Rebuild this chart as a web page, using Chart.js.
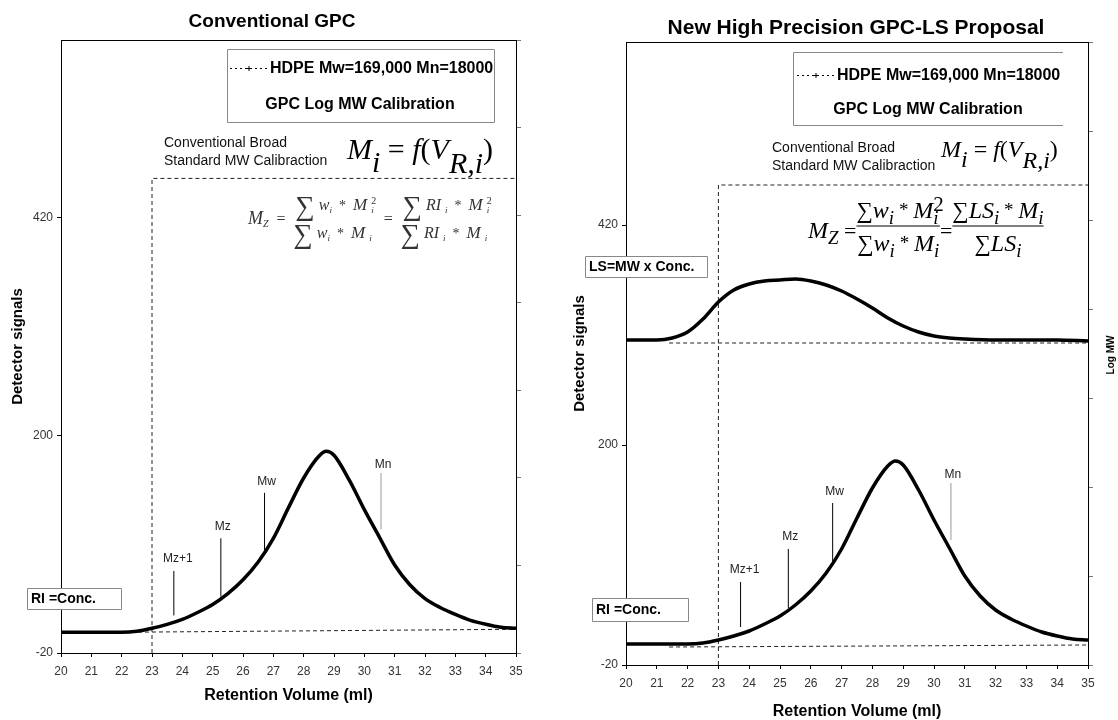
<!DOCTYPE html>
<html>
<head>
<meta charset="utf-8">
<script src="https://cdn.jsdelivr.net/npm/chart.js@4.4.0/dist/chart.umd.min.js"></script>
<style>
body { margin: 0; background: #fff; width: 1118px; height: 720px; overflow: hidden; position: relative; }
canvas { position: absolute; top: 0; }
#left { left: 0; }
#right { left: 558px; }
</style>
</head>
<body>
<canvas id="left" width="558" height="720"></canvas>
<canvas id="right" width="560" height="720"></canvas>
<script>
// RI (concentration) trace, retention volume in ml
const volume = [20, 20.5, 21, 21.5, 22, 22.5, 23, 23.5, 24, 24.5, 25, 25.5, 26, 26.5, 27, 27.5, 28, 28.5, 28.75, 29, 29.5, 30, 30.5, 31, 31.5, 32, 32.5, 33, 33.5, 34, 34.5, 35]
const riSignal = [1, 1, 1, 1, 1, 2, 5, 9, 14, 21, 29, 40, 54, 72, 96, 127, 157, 179, 184, 180, 155, 125, 97, 69, 49, 35, 26, 19, 13, 9, 6, 5]

// light scattering trace (right panel only)
const lsVolume = [20, 21, 21.5, 22, 22.5, 23, 23.5, 24, 24.5, 25, 25.5, 26, 26.5, 27, 27.5, 28, 28.5, 29, 29.5, 30, 30.5, 31, 32, 33, 34, 35]
const lsSignal = [305, 305, 307, 313, 326, 343, 355, 361, 364, 365, 366, 364, 360, 354, 346, 337, 327, 319, 313, 309, 307, 306, 305, 305, 305, 304]

// baselines
const riBaseVolumeLeft = [20, 35]
const riBaseLeft = [0.5, 4]
const riBaseVolumeRight = [21.4, 35]
const riBaseRight = [-2, 0]
const lsBaseVolume = [21.4, 35]
const lsBase = [302, 302]

// calibration limit (dashed box)
const calVolume = [23, 23, 35]
const calSignal = [-20, 460, 460]

// average MW markers
const markerNames = ['Mz+1', 'Mz', 'Mw', 'Mn']
const markerVolume = [23.72, 25.27, 26.71, 30.55]
const markerFrom = [18, 37, 82, 105]
const markerTo = [63, 96, 142, 162]
const markerLabelAt = [75, 108, 153, 170]

const xTicks = [20, 21, 22, 23, 24, 25, 26, 27, 28, 29, 30, 31, 32, 33, 34, 35]
const yTicks = [-20, 200, 420]
const logMwTicks = [0, 1, 2, 3, 4, 5, 6, 7]

const legendText = 'HDPE Mw=169,000 Mn=18000'
const legendText2 = 'GPC Log MW Calibration'

const SANS = '"Liberation Sans", Arial, sans-serif'
const SERIF = '"Liberation Serif", "Times New Roman", serif'

const pts = (xs, ys) => xs.map((x, i) => ({ x, y: ys[i] }))

function runs(ctx, x, y, list, draw = true) {
    const x0 = x
    list.forEach(([t, size, dy, style, keep]) => {
        ctx.font = `${style || ''} ${size}px ${SERIF}`
        if (draw) ctx.fillText(t, x, y + dy)
        if (!keep) x += ctx.measureText(t).width
    })
    return x - x0
}

function fraction(ctx, x, yNum, yDen, num, den, barY) {
    const wn = runs(ctx, 0, 0, num, false)
    const wd = runs(ctx, 0, 0, den, false)
    const w = Math.max(wn, wd)
    runs(ctx, x + (w - wn) / 2, yNum, num)
    runs(ctx, x + (w - wd) / 2, yDen, den)
    if (barY) {
        ctx.beginPath(); ctx.lineWidth = 1
        ctx.moveTo(x, barY); ctx.lineTo(x + w, barY); ctx.stroke()
    }
    return w
}

function textBox(ctx, x0, y0, x1, y1, text, size, openRight) {
    ctx.fillStyle = '#fff'
    ctx.fillRect(x0, y0, x1 - x0, y1 - y0)
    ctx.strokeStyle = '#888'; ctx.lineWidth = 1; ctx.setLineDash([])
    ctx.beginPath()
    if (openRight) {
        ctx.moveTo(x1, y0 + 0.5); ctx.lineTo(x0 + 0.5, y0 + 0.5); ctx.lineTo(x0 + 0.5, y1 + 0.5); ctx.lineTo(x1, y1 + 0.5)
    } else {
        ctx.rect(x0 + 0.5, y0 + 0.5, x1 - x0, y1 - y0)
    }
    ctx.stroke()
    if (text) {
        ctx.fillStyle = '#000'
        ctx.font = `bold ${size}px ${SANS}`
        ctx.textAlign = 'left'; ctx.textBaseline = 'middle'
        ctx.fillText(text, x0 + 4, (y0 + y1) / 2 + 1)
    }
}

function legend(ctx, x0, y0, x1, y1, sx0, sx1, ty, cx, ty2, openRight) {
    textBox(ctx, x0, y0, x1, y1, null, 0, openRight)
    ctx.strokeStyle = '#000'; ctx.lineWidth = 1; ctx.setLineDash([2, 3])
    ctx.beginPath(); ctx.moveTo(sx0, ty + 0.5); ctx.lineTo(sx1, ty + 0.5); ctx.stroke()
    ctx.setLineDash([])
    const m = (sx0 + sx1) / 2
    ctx.beginPath(); ctx.moveTo(m - 3, ty + 0.5); ctx.lineTo(m + 3, ty + 0.5); ctx.moveTo(m, ty - 2); ctx.lineTo(m, ty + 3); ctx.stroke()
    ctx.fillStyle = '#000'
    ctx.font = `bold 16px ${SANS}`
    ctx.textBaseline = 'middle'
    ctx.textAlign = 'left'
    ctx.fillText(legendText, sx1 + 2, ty + 1)
    ctx.textAlign = 'center'
    ctx.fillText(legendText2, cx, ty2)
}

function calibText(ctx, x, y) {
    ctx.fillStyle = '#111'
    ctx.font = `14px ${SANS}`
    ctx.textAlign = 'left'; ctx.textBaseline = 'middle'
    ctx.fillText('Conventional Broad', x, y)
    ctx.fillText('Standard MW Calibraction', x, y + 18)
}

function miFormula(ctx, x, y, s) {
    ctx.fillStyle = '#000'
    ctx.textAlign = 'left'; ctx.textBaseline = 'alphabetic'
    runs(ctx, x, y, [['M', s, 0, 'italic'], ['i', s, s * 0.42, 'italic'], [' = ', s, 0, ''], ['f', s, 0, 'italic'], ['(', s, 0, ''],
        ['V', s, 0, 'italic'], ['R,i', s, s * 0.45, 'italic'], [')', s, 0, '']])
}

function markerLabels(chart) {
    const { ctx, scales: { x, y } } = chart
    ctx.fillStyle = '#222'
    ctx.font = `12px ${SANS}`
    ctx.textAlign = 'center'; ctx.textBaseline = 'middle'
    markerNames.forEach((n, i) => {
        ctx.fillText(n, x.getPixelForValue(markerVolume[i]) + (i === 0 ? 4 : 2), y.getPixelForValue(markerLabelAt[i]))
    })
}

function frameTop(chart) {
    const { ctx, chartArea: a } = chart
    ctx.strokeStyle = '#000'; ctx.lineWidth = 1; ctx.setLineDash([])
    ctx.beginPath(); ctx.moveTo(a.left, a.top + 0.5); ctx.lineTo(a.right, a.top + 0.5); ctx.stroke()
}

function title(ctx, text, cx, cy, size) {
    ctx.fillStyle = '#000'
    ctx.font = `bold ${size}px ${SANS}`
    ctx.textAlign = 'center'; ctx.textBaseline = 'middle'
    ctx.fillText(text, cx, cy)
}

function decorateLeft(chart) {
    const ctx = chart.ctx
    ctx.save()
    frameTop(chart)
    title(ctx, 'Conventional GPC', 272, 22, 19)
    legend(ctx, 227, 49, 494, 122, 230, 268, 68, 360, 105, false)
    calibText(ctx, 164, 143)
    miFormula(ctx, 347, 159, 30)
    // Mz formula, RI form
    ctx.fillStyle = '#333'
    let x = 248
    x += runs(ctx, x, 224, [['M', 18, 0, 'italic'], ['Z', 10, 3, 'italic'], ['  =  ', 16, 0, '']])
    const sig = ['\u2211', 27, 5, '']
    const w = ['w', 16, 0, 'italic'], M = ['M', 17, 0, 'italic'], RI = ['RI', 16, 0, 'italic']
    const sub = ['i', 9, 3, 'italic'], sup = ['2', 10, -6, '', true], star = ['  *  ', 14, 0, ''], sp = ['  ', 8, 0, '']
    x += fraction(ctx, x, 210, 238,
        [sig, sp, w, sub, star, M, sp, sup, sub],
        [sig, sp, w, sub, star, M, sp, sub, sp])
    x += runs(ctx, x, 224, [['  =  ', 16, 0, '']])
    fraction(ctx, x, 210, 238,
        [sig, sp, RI, sp, sub, star, M, sp, sup, sub],
        [sig, sp, RI, sp, sub, star, M, sp, sub, sp])
    markerLabels(chart)
    textBox(ctx, 27, 588, 121, 609, 'RI =Conc.', 14)
    ctx.restore()
}

function decorateRight(chart) {
    const ctx = chart.ctx
    ctx.save()
    frameTop(chart)
    title(ctx, 'New High Precision GPC-LS Proposal', 298, 28, 21)
    legend(ctx, 235, 52, 505, 125, 239, 277, 75, 370, 110, true)
    calibText(ctx, 214, 148)
    miFormula(ctx, 383, 157, 24)
    // Mz formula, LS form
    ctx.fillStyle = '#000'; ctx.strokeStyle = '#000'
    let x = 250
    x += runs(ctx, x, 238, [['M', 24, 0, 'italic'], ['Z', 19, 6, 'italic'], [' =', 22, 0, '']])
    const sig = ['\u2211', 23, 0, '']
    const w = ['w', 24, 0, 'italic'], M = ['M', 24, 0, 'italic'], LS = ['LS', 24, 0, 'italic']
    const sub = ['i', 19, 6, 'italic'], sup = ['2', 21, -7, '', true], star = [' * ', 19, -2, ''], thin = [' ', 6, 0, '']
    x += fraction(ctx, x, 218, 251,
        [sig, w, sub, star, M, sup, sub, thin],
        [sig, w, sub, star, M, sub], 226)
    x += runs(ctx, x, 238, [['=', 22, 0, '']])
    fraction(ctx, x, 218, 251,
        [sig, LS, sub, star, M, sub],
        [sig, LS, sub], 226)
    markerLabels(chart)
    textBox(ctx, 27, 256, 149, 277, 'LS=MW x Conc.', 14)
    textBox(ctx, 34, 598, 130, 621, 'RI =Conc.', 14)
    // right axis name
    ctx.save()
    ctx.translate(553, 355); ctx.rotate(-Math.PI / 2)
    ctx.fillStyle = '#000'; ctx.font = `bold 10px ${SANS}`
    ctx.textAlign = 'center'; ctx.textBaseline = 'middle'
    ctx.fillText('Log MW', 0, 0)
    ctx.restore()
    ctx.restore()
}

function lineSet(xs, ys, extra) {
    return Object.assign({ data: pts(xs, ys), borderColor: '#000', borderWidth: 1, pointRadius: 0, fill: false, tension: 0 }, extra)
}

function markerSets() {
    return markerNames.map((n, i) => lineSet([markerVolume[i], markerVolume[i]], [markerFrom[i], markerTo[i]],
        { label: n, borderColor: n === 'Mn' ? '#999' : '#000' }))
}

function makeChart(id, cfg, datasets, decorate) {
    const tickFont = { size: 12, family: SANS }
    return new Chart(document.getElementById(id), {
        type: 'line',
        data: { datasets },
        options: {
            responsive: false, animation: false, devicePixelRatio: 1,
            layout: { padding: { top: cfg.top, left: 0, right: 0, bottom: 0 } },
            plugins: { legend: { display: false }, tooltip: { enabled: false }, title: { display: false } },
            scales: {
                x: {
                    type: 'linear', min: 20, max: 35,
                    afterFit: s => { s.height = cfg.xh },
                    afterBuildTicks: s => { s.ticks = xTicks.map(v => ({ value: v })) },
                    grid: { drawOnChartArea: false, color: '#000', tickLength: 4 },
                    border: { color: '#000' },
                    ticks: { color: '#333', font: tickFont, padding: 7, maxRotation: 0, autoSkip: false },
                    title: { display: true, text: 'Retention Volume (ml)', color: '#000', font: { size: 16, weight: 'bold', family: SANS }, padding: { top: 0, bottom: cfg.xtp } }
                },
                y: {
                    type: 'linear', min: -20, max: cfg.ymax,
                    afterFit: s => { s.width = cfg.yw },
                    afterBuildTicks: s => { s.ticks = yTicks.map(v => ({ value: v })) },
                    grid: { drawOnChartArea: false, color: '#000', tickLength: 4 },
                    border: { color: '#000' },
                    ticks: { color: '#333', font: tickFont, padding: 4 },
                    title: { display: true, text: 'Detector signals', color: '#000', font: { size: 15, weight: 'bold', family: SANS }, padding: { top: cfg.ytp, bottom: 0 } }
                },
                y2: {
                    type: 'linear', position: 'right', min: 0, max: 7,
                    afterFit: s => { s.width = cfg.y2w },
                    afterBuildTicks: s => { s.ticks = logMwTicks.map(v => ({ value: v })) },
                    grid: { drawOnChartArea: false, color: '#777', tickLength: 5 },
                    border: { color: '#000' },
                    ticks: { callback: () => '' }
                }
            }
        },
        plugins: [{ id: 'deco', afterDraw: decorate }]
    })
}

const curve = { borderWidth: 3.5, cubicInterpolationMode: 'monotone' }
const dashed = { borderDash: [4, 3], borderColor: '#222' }

makeChart('left', { top: 40, xh: 67, yw: 61, y2w: 42, ymax: 600, xtp: 15, ytp: 9 }, [
    lineSet(volume, riSignal, Object.assign({ label: 'RI' }, curve)),
    ...markerSets(),
    lineSet(riBaseVolumeLeft, riBaseLeft, Object.assign({ label: 'RI baseline' }, dashed)),
    lineSet(calVolume, calSignal, Object.assign({ label: 'calibration' }, dashed))
], decorateLeft)

makeChart('right', { top: 42, xh: 55, yw: 68, y2w: 30, ymax: 603, xtp: -1, ytp: 13 }, [
    lineSet(volume, riSignal, Object.assign({ label: 'RI' }, curve)),
    lineSet(lsVolume, lsSignal, Object.assign({ label: 'LS' }, curve)),
    ...markerSets(),
    lineSet(riBaseVolumeRight, riBaseRight, Object.assign({ label: 'RI baseline' }, dashed)),
    lineSet(lsBaseVolume, lsBase, Object.assign({ label: 'LS baseline' }, dashed)),
    lineSet(calVolume, calSignal, Object.assign({ label: 'calibration' }, dashed))
], decorateRight)
</script>
</body>
</html>
